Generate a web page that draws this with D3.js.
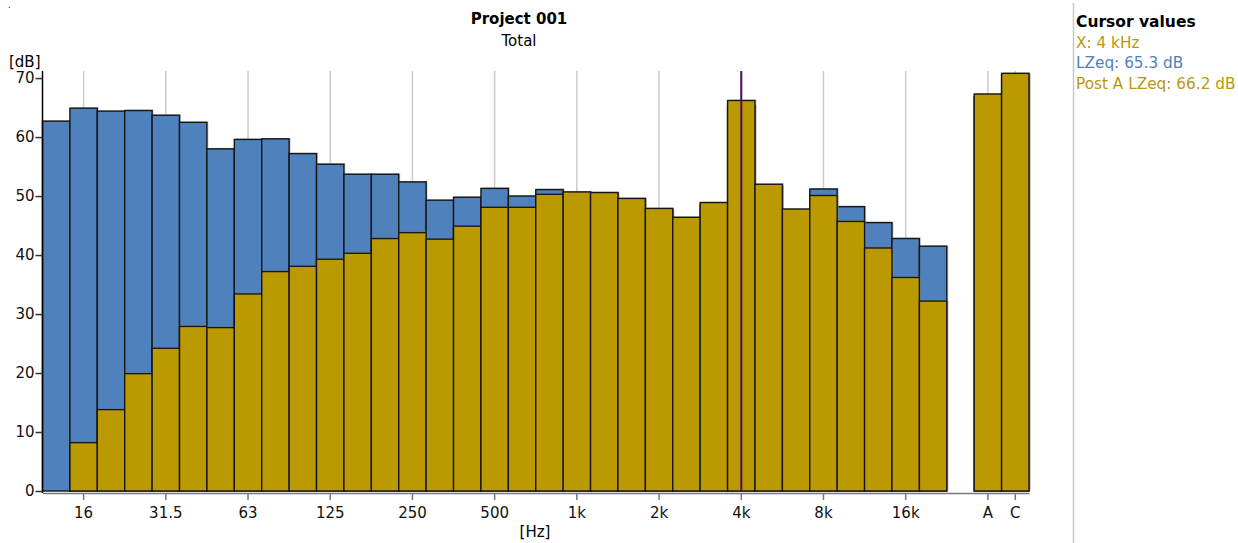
<!DOCTYPE html>
<html>
<head>
<meta charset="utf-8">
<script src="https://cdn.jsdelivr.net/npm/d3@7"></script>
<style>
  body { margin: 0; background: #fff; }
  svg { display: block; font-family: "DejaVu Sans", Verdana, sans-serif; }
</style>
</head>
<body>
<svg width="1238" height="543"></svg>
<script>
// band centres, one slot left empty between 20k and the A/C totals
var bands = ['12.5', '16', '20', '25', '31.5', '40', '50', '63', '80', '100', '125', '160',
  '200', '250', '315', '400', '500', '630', '800', '1k', '1.25k', '1.6k', '2k', '2.5k',
  '3.15k', '4k', '5k', '6.3k', '8k', '10k', '12.5k', '16k', '20k', 'gap', 'A', 'C'];

var tickLabels = ['16', '31.5', '63', '125', '250', '500', '1k', '2k', '4k', '8k', '16k', 'A', 'C'];
var yTicks = [0, 10, 20, 30, 40, 50, 60, 70];

var lzeq = [62.7, 64.9, 64.4, 64.5, 63.7, 62.5, 58.0, 59.6, 59.7, 57.2, 55.4, 53.7,
  53.7, 52.4, 49.3, 49.8, 51.3, 50.0, 51.1, 50.6, 50.4, 49.4, 47.6, 46.1,
  48.5, 65.3, 51.6, 47.5, 51.2, 48.2, 45.5, 42.8, 41.5, null, 66.8, 70.5];

var postA = [null, 8.2, 13.8, 19.9, 24.2, 27.9, 27.7, 33.4, 37.2, 38.1, 39.3, 40.3,
  42.8, 43.8, 42.7, 44.9, 48.1, 48.1, 50.3, 50.7, 50.6, 49.6, 47.9, 46.4,
  48.9, 66.2, 52.0, 47.8, 50.1, 45.7, 41.2, 36.2, 32.2, null, 67.3, 70.8];

var cursorBand = '4k';

var blue = '#4f81bd', gold = '#bb9900';

var svg = d3.select('svg');

var x = d3.scaleBand().domain(bands).range([42.5, 1029]).padding(0);
var y = d3.scaleLinear().domain([0, 71.2]).range([491, 71]);

// vertical grid lines behind the bars
svg.append('g')
  .selectAll('line')
  .data(tickLabels)
  .enter()
  .append('line')
  .attr('x1', d => x(d) + x.bandwidth() / 2)
  .attr('x2', d => x(d) + x.bandwidth() / 2)
  .attr('y1', y(71.2))
  .attr('y2', y(0))
  .attr('stroke', '#cccccc')
  .attr('stroke-width', 1.5);

function drawBars(values, color) {
  var data = bands.map((b, i) => ({ band: b, v: values[i] })).filter(d => d.v != null);
  var g = svg.append('g');
  // faint drop shadow
  g.selectAll('.shadow')
    .data(data)
    .enter()
    .append('rect')
    .attr('x', d => x(d.band) + 1.5)
    .attr('y', d => y(d.v) - 1)
    .attr('width', x.bandwidth())
    .attr('height', d => y(0) - y(d.v))
    .attr('fill', '#999')
    .attr('opacity', 0.5);
  g.selectAll('.bar')
    .data(data)
    .enter()
    .append('rect')
    .attr('x', d => x(d.band))
    .attr('y', d => y(d.v))
    .attr('width', x.bandwidth())
    .attr('height', d => y(0) - y(d.v))
    .attr('fill', color)
    .attr('stroke', '#161616')
    .attr('stroke-width', 1.4);
}
drawBars(lzeq, blue);
drawBars(postA, gold);

// cursor line
svg.append('line')
  .attr('x1', x(cursorBand) + x.bandwidth() / 2)
  .attr('x2', x(cursorBand) + x.bandwidth() / 2)
  .attr('y1', y(71.2))
  .attr('y2', y(0))
  .attr('stroke', '#4e0c5e')
  .attr('stroke-width', 2);

// axes
var yAxis = svg.append('g')
  .attr('transform', 'translate(42.5,0)')
  .call(d3.axisLeft(y).tickValues(yTicks).tickSize(7).tickPadding(1));
yAxis.select('.domain').attr('stroke', '#000').attr('stroke-width', 1.5).attr('d', 'M0,' + y(71.2) + 'V' + (y(0) + 2));
yAxis.selectAll('.tick line').attr('stroke', '#333').attr('stroke-width', 1.5);
yAxis.selectAll('text').attr('font-size', '15px').attr('fill', '#111').attr('font-family', '"DejaVu Sans", sans-serif');

var xAxis = svg.append('g')
  .attr('transform', 'translate(0,' + (y(0) + 2) + ')')
  .call(d3.axisBottom(x).tickValues(tickLabels).tickSize(7).tickPadding(7).tickSizeOuter(0));
xAxis.select('.domain').attr('stroke', '#777').attr('stroke-width', 1.5);
xAxis.selectAll('.tick line').attr('stroke', '#777').attr('stroke-width', 1.5);
xAxis.selectAll('text').attr('font-size', '15px').attr('fill', '#111').attr('font-family', '"DejaVu Sans", sans-serif');

// titles
svg.append('text').attr('x', 519).attr('y', 24).attr('text-anchor', 'middle')
  .attr('font-size', '15px').attr('font-weight', 'bold').text('Project 001');
svg.append('text').attr('x', 519).attr('y', 46).attr('text-anchor', 'middle')
  .attr('font-size', '15px').text('Total');
svg.append('text').attr('x', 9).attr('y', 67).attr('font-size', '15px').text('[dB]');
svg.append('text').attr('x', 535).attr('y', 537).attr('text-anchor', 'middle')
  .attr('font-size', '15px').text('[Hz]');
svg.append('text').attr('x', 8).attr('y', 8).attr('font-size', '8px').text('.');

// cursor values panel
svg.append('line')
  .attr('x1', 1073.5).attr('x2', 1073.5).attr('y1', 3).attr('y2', 543)
  .attr('stroke', '#c8c8c8').attr('stroke-width', 1.5);

var legendLines = [
  { text: 'Cursor values', color: '#000', bold: true },
  { text: 'X: 4 kHz', color: '#b8980a' },
  { text: 'LZeq: 65.3 dB', color: blue },
  { text: 'Post A LZeq: 66.2 dB', color: '#b8980a' }
];
svg.append('g')
  .selectAll('text')
  .data(legendLines)
  .enter()
  .append('text')
  .attr('x', 1076)
  .attr('y', (d, i) => 27 + i * 20.5)
  .attr('font-size', d => d.bold ? '15.5px' : '15.3px')
  .attr('font-weight', d => d.bold ? 'bold' : 'normal')
  .attr('fill', d => d.color)
  .text(d => d.text);
</script>
</body>
</html>
